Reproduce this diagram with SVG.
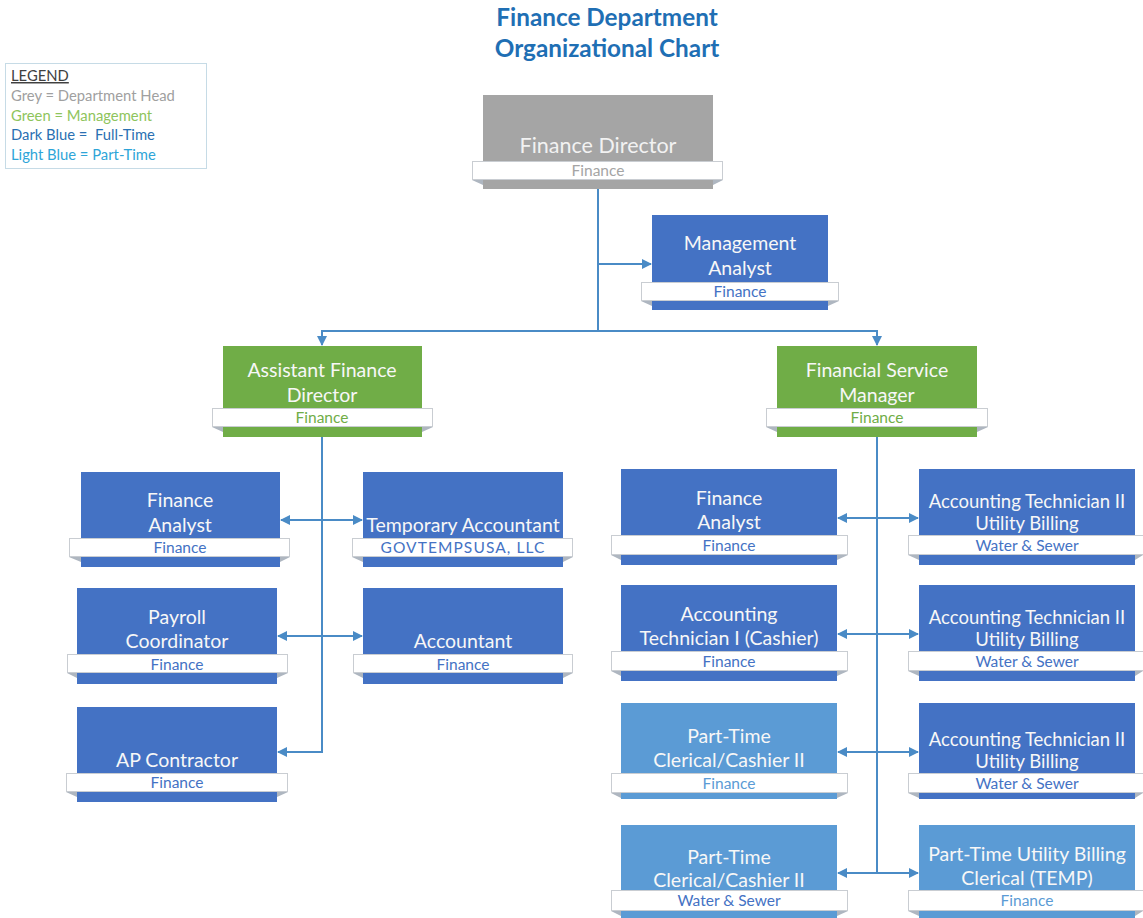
<svg xmlns="http://www.w3.org/2000/svg" width="1143" height="918" viewBox="0 0 1143 918">
  <defs>
    <marker id="arrow" viewBox="0 0 10 10" refX="9" refY="5" markerWidth="10" markerHeight="10" markerUnits="userSpaceOnUse" orient="auto-start-reverse">
      <path d="M0,0 L10,5 L0,10 z" fill="#4a8bc6"/>
    </marker>
  </defs>
  <style>
    text { font-family: Lato, "Open Sans", "Liberation Sans", sans-serif; text-anchor: middle; }
    .title { font-size: 24.3px; font-weight: bold; fill: #1f6fb4; }
    .leg { font-size: 14.8px; text-anchor: start; }
    .box-grey { fill: #a5a5a5; }
    .box-green { fill: #70ad47; }
    .box-dark { fill: #4472c4; }
    .box-light { fill: #5b9bd5; }
    .band { fill: #ffffff; stroke: #c9cdd2; stroke-width: 1; }
    .fold { fill: #aeb6c0; }
    .name { font-size: 19.5px; fill: #f7f7f7; }
    .name-lg { font-size: 21.5px; fill: #f2f2f2; }
    .name-sm { font-size: 18.5px; fill: #f7f7f7; }
    .lab { font-size: 15.5px; }
    .lab-grey { fill: #a5a5a5; }
    .lab-green { fill: #70ad47; }
    .lab-dark { fill: #4472c4; }
    .lab-light { fill: #5b9bd5; }
    .conn { fill: none; stroke: #4a8bc6; stroke-width: 2; }
  </style>

  <rect width="1143" height="918" fill="#ffffff"/>

  <!-- Title -->
  <g id="title">
    <text class="title" x="607" y="26">Finance Department</text>
    <text class="title" x="607" y="57">Organizational Chart</text>
  </g>

  <!-- Legend -->
  <g id="legend">
    <rect x="5.5" y="63.5" width="201" height="105" fill="#ffffff" stroke="#c6dbe6" stroke-width="1"/>
    <text class="leg" x="11" y="81" fill="#404040" text-decoration="underline">LEGEND</text>
    <text class="leg" x="11" y="101" fill="#a0a0a0">Grey = Department Head</text>
    <text class="leg" x="11" y="121" fill="#8ec45c">Green = Management</text>
    <text class="leg" x="11" y="140" fill="#2a70b2" xml:space="preserve">Dark Blue =  Full-Time</text>
    <text class="leg" x="11" y="160" fill="#2ea5d8">Light Blue = Part-Time</text>
  </g>

  <!-- Connectors -->
  <g id="connectors">
    <path class="conn" d="M598,189 V331"/>
    <path class="conn" d="M598,264 H651" marker-end="url(#arrow)"/>
    <path class="conn" d="M598,331 H322 V345" marker-end="url(#arrow)"/>
    <path class="conn" d="M598,331 H877 V345" marker-end="url(#arrow)"/>
    <path class="conn" d="M322,437 V752 H278" marker-end="url(#arrow)"/>
    <path class="conn" d="M281,520 H362" marker-start="url(#arrow)" marker-end="url(#arrow)"/>
    <path class="conn" d="M278,636 H362" marker-start="url(#arrow)" marker-end="url(#arrow)"/>
    <path class="conn" d="M877,437 V873"/>
    <path class="conn" d="M838,518 H918" marker-start="url(#arrow)" marker-end="url(#arrow)"/>
    <path class="conn" d="M838,634 H918" marker-start="url(#arrow)" marker-end="url(#arrow)"/>
    <path class="conn" d="M838,752 H918" marker-start="url(#arrow)" marker-end="url(#arrow)"/>
    <path class="conn" d="M838,873 H918" marker-start="url(#arrow)" marker-end="url(#arrow)"/>
  </g>

  <!-- Finance Director -->
  <g id="finance-director">
    <rect class="box-grey" x="483" y="95" width="230" height="94"/>
    <polygon class="fold" points="472,180 483,180 483,185"/>
    <polygon class="fold" points="723,180 713,180 713,185"/>
    <rect class="band" x="472.5" y="161.5" width="250" height="18"/>
    <text class="name-lg" x="598" y="153">Finance Director</text>
    <text class="lab lab-grey" x="598" y="176">Finance</text>
  </g>

  <!-- Management Analyst -->
  <g id="management-analyst">
    <rect class="box-dark" x="652" y="215" width="176" height="95"/>
    <polygon class="fold" points="641,301 652,301 652,306"/>
    <polygon class="fold" points="839,301 828,301 828,306"/>
    <rect class="band" x="641.5" y="282.5" width="197" height="18"/>
    <text class="name" x="740" y="250">Management</text>
    <text class="name" x="740" y="275">Analyst</text>
    <text class="lab lab-dark" x="740" y="297">Finance</text>
  </g>

  <!-- Assistant Finance Director -->
  <g id="assistant-finance-director">
    <rect class="box-green" x="223" y="346" width="199" height="91"/>
    <polygon class="fold" points="212,427 223,427 223,432"/>
    <polygon class="fold" points="433,427 422,427 422,432"/>
    <rect class="band" x="212.5" y="408.5" width="220" height="18"/>
    <text class="name" x="322" y="377">Assistant Finance</text>
    <text class="name" x="322" y="402">Director</text>
    <text class="lab lab-green" x="322" y="423">Finance</text>
  </g>

  <!-- Financial Service Manager -->
  <g id="financial-service-manager">
    <rect class="box-green" x="777" y="346" width="200" height="91"/>
    <polygon class="fold" points="766,427 777,427 777,432"/>
    <polygon class="fold" points="988,427 977,427 977,432"/>
    <rect class="band" x="766.5" y="408.5" width="221" height="18"/>
    <text class="name" x="877" y="377">Financial Service</text>
    <text class="name" x="877" y="402">Manager</text>
    <text class="lab lab-green" x="877" y="423">Finance</text>
  </g>

  <!-- Finance Analyst (left) -->
  <g id="finance-analyst-left">
    <rect class="box-dark" x="81" y="472" width="199" height="95"/>
    <polygon class="fold" points="69,557 81,557 81,562"/>
    <polygon class="fold" points="290,557 280,557 280,562"/>
    <rect class="band" x="69.5" y="538.5" width="220" height="18"/>
    <text class="name" x="180" y="507">Finance</text>
    <text class="name" x="180" y="532">Analyst</text>
    <text class="lab lab-dark" x="180" y="553">Finance</text>
  </g>

  <!-- Temporary Accountant -->
  <g id="temporary-accountant">
    <rect class="box-dark" x="363" y="472" width="200" height="95"/>
    <polygon class="fold" points="352,557 363,557 363,562"/>
    <polygon class="fold" points="573,557 563,557 563,562"/>
    <rect class="band" x="352.5" y="538.5" width="220" height="18"/>
    <text class="name" x="463" y="532">Temporary Accountant</text>
    <text class="lab lab-dark" x="463" y="553" letter-spacing="1.1">GOVTEMPSUSA, LLC</text>
  </g>

  <!-- Payroll Coordinator -->
  <g id="payroll-coordinator">
    <rect class="box-dark" x="77" y="588" width="200" height="96"/>
    <polygon class="fold" points="67,673 77,673 77,678"/>
    <polygon class="fold" points="288,673 277,673 277,678"/>
    <rect class="band" x="67.5" y="654.5" width="220" height="18"/>
    <text class="name" x="177" y="624">Payroll</text>
    <text class="name" x="177" y="648">Coordinator</text>
    <text class="lab lab-dark" x="177" y="670">Finance</text>
  </g>

  <!-- Accountant -->
  <g id="accountant">
    <rect class="box-dark" x="363" y="588" width="200" height="96"/>
    <polygon class="fold" points="353,673 363,673 363,678"/>
    <polygon class="fold" points="573,673 563,673 563,678"/>
    <rect class="band" x="353.5" y="654.5" width="219" height="18"/>
    <text class="name" x="463" y="648">Accountant</text>
    <text class="lab lab-dark" x="463" y="670">Finance</text>
  </g>

  <!-- AP Contractor -->
  <g id="ap-contractor">
    <rect class="box-dark" x="77" y="707" width="200" height="95"/>
    <polygon class="fold" points="66,792 77,792 77,797"/>
    <polygon class="fold" points="288,792 277,792 277,797"/>
    <rect class="band" x="66.5" y="773.5" width="221" height="18"/>
    <text class="name" x="177" y="767">AP Contractor</text>
    <text class="lab lab-dark" x="177" y="788">Finance</text>
  </g>

  <!-- Finance Analyst (right) -->
  <g id="finance-analyst-right">
    <rect class="box-dark" x="621" y="469" width="216" height="96"/>
    <polygon class="fold" points="611,555 621,555 621,560"/>
    <polygon class="fold" points="848,555 837,555 837,560"/>
    <rect class="band" x="611.5" y="535.5" width="236" height="19"/>
    <text class="name" x="729" y="505">Finance</text>
    <text class="name" x="729" y="529">Analyst</text>
    <text class="lab lab-dark" x="729" y="551">Finance</text>
  </g>

  <!-- Accounting Technician II (1) -->
  <g id="accounting-technician-ii-1">
    <rect class="box-dark" x="919" y="469" width="216" height="96"/>
    <polygon class="fold" points="908,555 919,555 919,560"/>
    <polygon class="fold" points="1143,555 1135,555 1135,560"/>
    <rect class="band" x="908.5" y="535.5" width="236" height="19"/>
    <text class="name-sm" x="1027" y="508">Accounting Technician II</text>
    <text class="name-sm" x="1027" y="530">Utility Billing</text>
    <text class="lab lab-dark" x="1027" y="551">Water &amp; Sewer</text>
  </g>

  <!-- Accounting Technician I (Cashier) -->
  <g id="accounting-technician-i">
    <rect class="box-dark" x="621" y="585" width="216" height="96"/>
    <polygon class="fold" points="611,671 621,671 621,676"/>
    <polygon class="fold" points="848,671 837,671 837,676"/>
    <rect class="band" x="611.5" y="651.5" width="236" height="19"/>
    <text class="name" x="729" y="621">Accounting</text>
    <text class="name" x="729" y="645">Technician I (Cashier)</text>
    <text class="lab lab-dark" x="729" y="667">Finance</text>
  </g>

  <!-- Accounting Technician II (2) -->
  <g id="accounting-technician-ii-2">
    <rect class="box-dark" x="919" y="585" width="216" height="96"/>
    <polygon class="fold" points="908,671 919,671 919,676"/>
    <polygon class="fold" points="1143,671 1135,671 1135,676"/>
    <rect class="band" x="908.5" y="651.5" width="236" height="19"/>
    <text class="name-sm" x="1027" y="624">Accounting Technician II</text>
    <text class="name-sm" x="1027" y="646">Utility Billing</text>
    <text class="lab lab-dark" x="1027" y="667">Water &amp; Sewer</text>
  </g>

  <!-- Part-Time Clerical/Cashier II (Finance) -->
  <g id="part-time-clerical-finance">
    <rect class="box-light" x="621" y="703" width="216" height="96"/>
    <polygon class="fold" points="611,793 621,793 621,798"/>
    <polygon class="fold" points="848,793 837,793 837,798"/>
    <rect class="band" x="611.5" y="773.5" width="236" height="19"/>
    <text class="name" x="729" y="743">Part-Time</text>
    <text class="name" x="729" y="767">Clerical/Cashier II</text>
    <text class="lab lab-light" x="729" y="789">Finance</text>
  </g>

  <!-- Accounting Technician II (3) -->
  <g id="accounting-technician-ii-3">
    <rect class="box-dark" x="919" y="703" width="216" height="96"/>
    <polygon class="fold" points="908,793 919,793 919,798"/>
    <polygon class="fold" points="1143,793 1135,793 1135,798"/>
    <rect class="band" x="908.5" y="773.5" width="236" height="19"/>
    <text class="name-sm" x="1027" y="746">Accounting Technician II</text>
    <text class="name-sm" x="1027" y="768">Utility Billing</text>
    <text class="lab lab-dark" x="1027" y="789">Water &amp; Sewer</text>
  </g>

  <!-- Part-Time Clerical/Cashier II (Water & Sewer) -->
  <g id="part-time-clerical-water-sewer">
    <rect class="box-light" x="621" y="825" width="216" height="100"/>
    <polygon class="fold" points="611,911 621,911 621,916"/>
    <polygon class="fold" points="848,911 837,911 837,916"/>
    <rect class="band" x="611.5" y="890.5" width="236" height="20"/>
    <text class="name" x="729" y="864">Part-Time</text>
    <text class="name" x="729" y="887">Clerical/Cashier II</text>
    <text class="lab lab-dark" x="729" y="906">Water &amp; Sewer</text>
  </g>

  <!-- Part-Time Utility Billing Clerical (TEMP) -->
  <g id="part-time-utility-billing-clerical">
    <rect class="box-light" x="919" y="825" width="216" height="100"/>
    <polygon class="fold" points="908,911 919,911 919,916"/>
    <polygon class="fold" points="1143,911 1135,911 1135,916"/>
    <rect class="band" x="908.5" y="890.5" width="236" height="20"/>
    <text class="name" x="1027" y="861">Part-Time Utility Billing</text>
    <text class="name" x="1027" y="885">Clerical (TEMP)</text>
    <text class="lab lab-light" x="1027" y="906">Finance</text>
  </g>
</svg>
